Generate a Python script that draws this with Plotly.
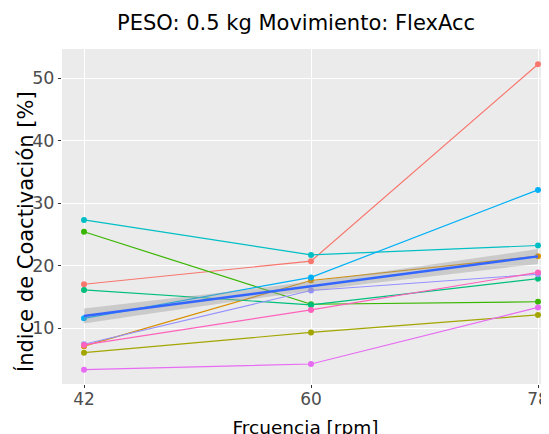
import numpy as np
import plotly.graph_objects as go

# ---- data ----
frecuencia = [42, 60, 78]
sujetos = ["S1", "S2", "S3", "S4", "S5", "S6", "S7", "S8", "S9", "S10"]
colores = ["#F8766D", "#D89000", "#A3A500", "#39B600", "#00BF7D",
           "#00BFC4", "#00B0F6", "#9590FF", "#E76BF3", "#FF62BC"]
s1 = [17.0, 20.7, 52.2]
s2 = [7.1, 17.6, 21.5]
s3 = [6.05, 9.3, 12.1]
s4 = [25.4, 13.8, 14.2]
s5 = [16.1, 13.7, 17.9]
s6 = [27.3, 21.7, 23.2]
s7 = [11.55, 18.1, 32.1]
s8 = [7.4, 16.0, 18.6]
s9 = [3.33, 4.24, 13.3]
s10 = [7.3, 12.9, 18.9]
valores = [s1, s2, s3, s4, s5, s6, s7, s8, s9, s10]
banda_extremo = 1.2   # half-width of the grey band at 42 and 78 rpm
x_ticks = [42, 60, 78]
y_ticks = [10, 20, 30, 40, 50]

fig = go.Figure()

# linear fit over all points with a grey band
xs = np.array([x for v in valores for x in frecuencia], dtype=float)
ys = np.array([y for v in valores for y in v], dtype=float)
b1, b0 = np.polyfit(xs, ys, 1)
xg = np.linspace(min(frecuencia), max(frecuencia), 60)
fit = b0 + b1 * xg
n = len(xs)
sxx = np.sum((xs - xs.mean()) ** 2)
shape = np.sqrt(1 / n + (xg - xs.mean()) ** 2 / sxx)
shape_end = np.sqrt(1 / n + (max(frecuencia) - xs.mean()) ** 2 / sxx)
hw = banda_extremo * shape / shape_end

for name, col, v in zip(sujetos, colores, valores):
    fig.add_trace(go.Scatter(x=frecuencia, y=v, mode="lines+markers", name=name,
                             line=dict(color=col, width=1.2),
                             marker=dict(color=col, size=6), showlegend=False))

fig.add_trace(go.Scatter(x=np.concatenate([xg, xg[::-1]]),
                         y=np.concatenate([fit + hw, (fit - hw)[::-1]]),
                         fill="toself", fillcolor="rgba(153,153,153,0.4)",
                         line=dict(width=0), mode="lines", hoverinfo="skip",
                         showlegend=False))
fig.add_trace(go.Scatter(x=xg, y=fit, mode="lines",
                         line=dict(color="#3366FF", width=2.5), showlegend=False))

fig.update_layout(
    width=549, height=434,
    margin=dict(l=54, r=8, t=41, b=58),
    paper_bgcolor="white", plot_bgcolor="#EBEBEB",
    font=dict(family="DejaVu Sans", color="#1a1a1a"),
    title=dict(text="PESO: 0.5 kg Movimiento: FlexAcc", x=288 / 549, xanchor="center",
               y=1 - 15 / 434, yanchor="middle", font=dict(size=21, color="black")),
    annotations=[dict(text="Índice de Coactivación [%]", textangle=-90,
                      xref="paper", yref="paper", x=(17 - 54) / 487, y=(376 - 224) / 335,
                      xanchor="center", yanchor="middle", showarrow=False,
                      font=dict(size=21, color="black"))],
)
fig.update_xaxes(range=[40.256, 78.87], tickvals=x_ticks, showgrid=True, automargin=False,
                 gridcolor="white", gridwidth=1, zeroline=False,
                 ticks="outside", ticklen=3, tickcolor="#333333", ticklabelstandoff=-3,
                 tickfont=dict(size=17, color="#4D4D4D"),
                 title=dict(text="Frcuencia [rpm]", font=dict(size=18.5, color="black"), standoff=12))
fig.update_yaxes(range=[1.04, 54.64], tickvals=y_ticks, showgrid=True, automargin=False,
                 gridcolor="white", gridwidth=1.2, zeroline=False,
                 ticks="outside", ticklen=3, tickcolor="#333333",
                 tickfont=dict(size=17.5, color="#4D4D4D"))

fig.write_html("out.html")
